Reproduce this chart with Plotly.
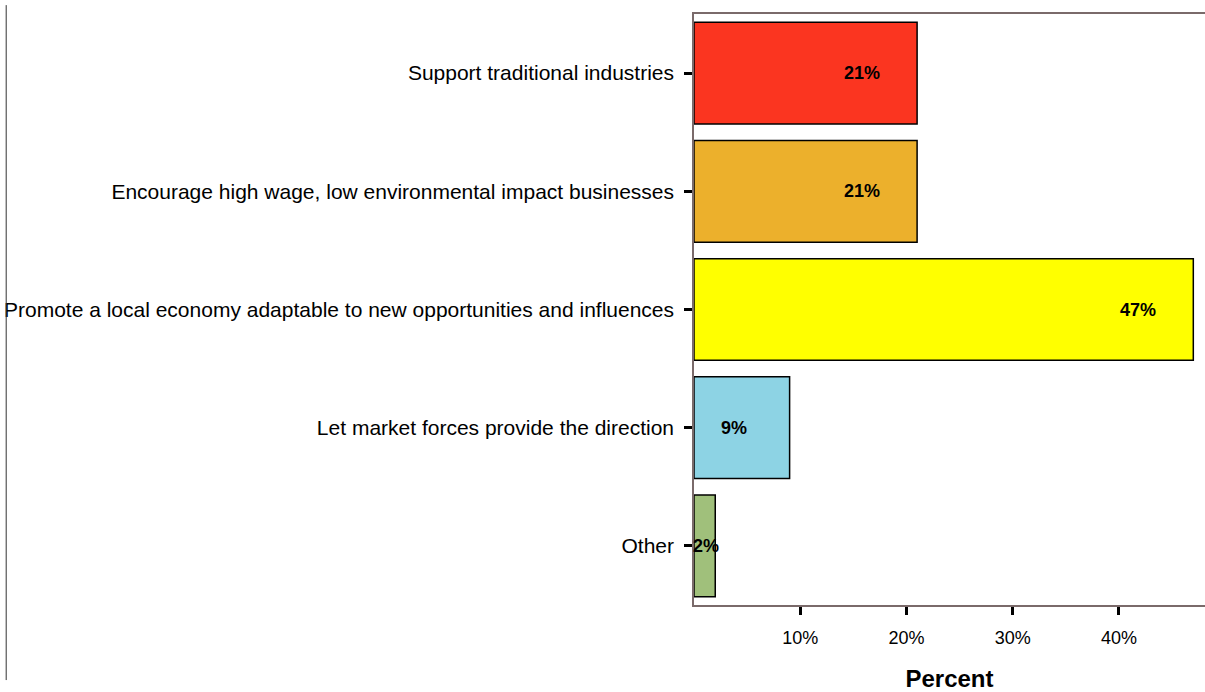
import plotly.graph_objects as go

categories = [
    "Support traditional industries",
    "Encourage high wage, low environmental impact businesses",
    "Promote a local economy adaptable to new opportunities and influences",
    "Let market forces provide the direction",
    "Other",
]
values = [21, 21, 47, 9, 2]
colors = ["#FB3520", "#ECB02C", "#FFFF00", "#8DD3E4", "#A0C07B"]
tick_vals = [10, 20, 30, 40]
tick_text = ["10%", "20%", "30%", "40%"]

fig = go.Figure()
fig.add_trace(go.Bar(
    x=values, y=categories, orientation="h",
    marker=dict(color=colors, line=dict(color="black", width=1.5)),
    hoverinfo="skip",
))

for c, v in zip(categories, values):
    fig.add_annotation(
        x=max(v - 5.2, 1.1), y=c, text=f"<b>{v}%</b>", showarrow=False,
        font=dict(family="Liberation Sans, Arial", size=18, color="black"),
        xanchor="center", yanchor="middle",
    )

fig.add_shape(type="line", xref="paper", yref="paper",
              x0=-1.346, x1=-1.346, y0=1.015, y1=-0.127,
              line=dict(color="#333333", width=1))

fig.update_layout(
    width=1205, height=692,
    margin=dict(l=694, r=0, t=14, b=87),
    paper_bgcolor="white", plot_bgcolor="white",
    bargap=0.14,
    showlegend=False,
    font=dict(family="Liberation Sans, Arial", color="black"),
)
fig.update_xaxes(
    range=[0, 48.1], tickvals=tick_vals, ticktext=tick_text,
    ticks="outside", ticklen=8, tickwidth=3, tickcolor="black",
    tickfont=dict(size=18), ticklabelstandoff=8,
    showgrid=False, zeroline=False,
    showline=True, linecolor="#7a6a6a", linewidth=1.5, mirror=True,
    title=dict(text="<b>Percent</b>", font=dict(size=24), standoff=26),
)
fig.update_yaxes(
    categoryorder="array", categoryarray=categories[::-1],
    range=[-0.5, 4.5],
    ticks="outside", ticklen=8, tickwidth=3, tickcolor="black",
    tickfont=dict(size=21), ticklabelstandoff=6,
    showgrid=False, zeroline=False,
    showline=True, linecolor="#7a6a6a", linewidth=1.5, mirror=False,
)

fig.write_html("out.html")
